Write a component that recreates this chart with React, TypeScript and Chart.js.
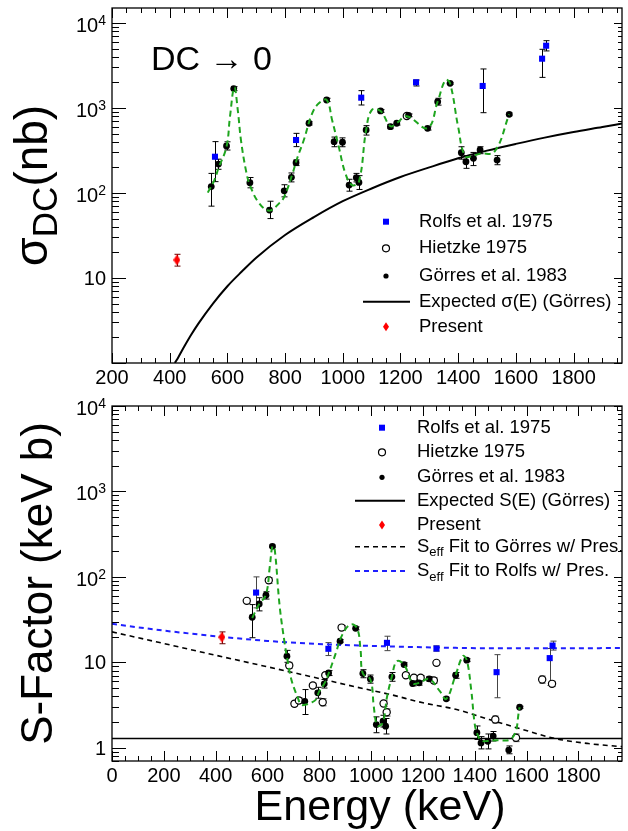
import React, { useEffect, useRef } from 'react';
import { Chart, registerables } from 'chart.js';
Chart.register(...registerables);

const FONT = '"Liberation Sans", Arial, Helvetica, sans-serif';

// ---------------- TOP PANEL (cross section, nb) ----------------
const topRolfsE = [557, 838, 1064, 1254, 1485, 1691, 1705];
const topRolfsY = [267, 420, 1322, 2004, 1815, 3800, 5400];
const topRolfsLo = [136, 351, 1084, 1815, 880, 2290, 4690];
const topRolfsHi = [402, 503, 1600, 2135, 2877, 4900, 6190];

const topHietzkeE = [1222];
const topHietzkeY = [805];

const topGorresE = [544, 569, 597, 622, 678, 746, 797, 822, 838, 883, 944, 970, 999, 1022, 1047, 1056, 1081, 1131, 1165, 1187, 1228, 1294, 1329, 1372, 1411, 1427, 1453, 1476, 1535, 1577];
const topGorresY = [119, 219, 357, 1690, 132, 63, 106, 153, 227, 661, 1242, 401, 395, 124, 151, 133, 551, 922, 603, 661, 820, 577, 1187, 1950, 298, 233, 256, 321, 244, 842];
const topGorresLo = [70, 190, 320, 1600, 115, 50, 90, 135, 210, 630, 1190, 350, 350, 105, 135, 110, 480, 890, 570, 630, 790, 550, 1080, 1900, 250, 195, 210, 290, 215, 810];
const topGorresHi = [170, 250, 400, 1780, 152, 80, 125, 172, 245, 690, 1300, 455, 445, 145, 170, 160, 620, 955, 640, 690, 850, 600, 1300, 2000, 350, 275, 300, 350, 275, 875];

const topPresentE = [425];
const topPresentY = [16.3];
const topPresentLo = [13.8];
const topPresentHi = [19.0];

const topCurveE = [532, 555, 569, 597, 609, 624, 636, 647, 664, 678, 710, 746, 780, 797, 826, 842, 865, 894, 917, 944, 963, 986, 1009, 1032, 1056, 1081, 1101, 1131, 1165, 1187, 1222, 1294, 1329, 1356, 1372, 1400, 1424, 1453, 1476, 1526, 1577];
const topCurveY = [101, 142, 195, 351, 790, 1750, 946, 420, 187, 124, 76, 62, 76, 90, 170, 256, 420, 866, 1135, 1242, 722, 351, 170, 124, 136, 550, 950, 920, 610, 665, 800, 580, 1190, 2130, 1950, 600, 270, 275, 290, 306, 842];

const topExpectedE = [418, 430, 450, 475, 500, 550, 600, 650, 700, 800, 900, 1000, 1100, 1200, 1300, 1400, 1500, 1600, 1700, 1800, 1900, 1968];
const topExpectedY = [1, 1.17, 1.55, 2.16, 2.92, 5.0, 8.0, 11.9, 17.3, 32, 52, 80, 113, 154, 200, 256, 315, 378, 448, 521, 596, 655];

const topXTicks = [200, 400, 600, 800, 1000, 1200, 1400, 1600, 1800];

// ---------------- BOTTOM PANEL (S-factor, keV b) ----------------
const botRolfsE = [556, 835, 1061, 1252, 1484, 1689, 1700];
const botRolfsY = [65.5, 14.4, 16.9, 14.5, 7.67, 11.2, 15.7];
const botRolfsLo = [43.4, 12.0, 13.7, 13.5, 3.85, 5.35, 13.9];
const botRolfsHi = [100, 17.0, 20.2, 15.6, 12.3, 14.5, 17.7];

const botHietzkeE = [520, 605, 684, 704, 721, 775, 813, 823, 886, 1048, 1060, 1134, 1165, 1191, 1242, 1252, 1479, 1559, 1660, 1698];
const botHietzkeY = [52.4, 91.2, 9.2, 3.27, 3.57, 5.35, 3.41, 7.06, 25.5, 3.3, 2.6, 7.06, 6.59, 6.6, 6.12, 9.86, 2.14, 1.31, 6.3, 5.6];
const botHietzkeLo = [49, 84, 8.5, 3.05, 3.3, 5.0, 3.1, 6.6, 24, 3.05, 2.35, 6.6, 6.2, 6.2, 5.7, 9.3, 1.95, 1.18, 5.7, 5.2];
const botHietzkeHi = [56, 98, 10, 3.5, 3.85, 5.7, 3.75, 7.5, 27, 3.55, 2.85, 7.5, 7.0, 7.0, 6.6, 10.4, 2.35, 1.45, 6.9, 6.0];

const botGorresE = [541, 568, 594, 619, 675, 744, 794, 819, 836, 880, 940, 968, 997, 1020, 1046, 1056, 1080, 1127, 1160, 1185, 1224, 1290, 1326, 1369, 1408, 1424, 1450, 1471, 1531, 1573];
const botGorresY = [33.7, 48.3, 61, 228, 11.8, 3.5, 4.4, 5.6, 7.5, 17.7, 25, 7.4, 6.4, 1.87, 2.05, 1.79, 6.77, 9.42, 5.65, 5.75, 6.41, 3.74, 7.06, 10.6, 1.5, 1.14, 1.19, 1.37, 0.94, 2.98];
const botGorresLo = [19.4, 40, 55, 220, 10, 2.45, 3.8, 5.0, 7.0, 17, 24, 6.6, 5.7, 1.5, 1.75, 1.45, 6.0, 9.0, 5.3, 5.4, 6.0, 3.6, 6.5, 10.2, 1.25, 0.97, 0.97, 1.2, 0.85, 2.9];
const botGorresHi = [47.4, 57, 67, 236, 13.8, 4.8, 5.1, 6.3, 8.0, 18.5, 26, 8.2, 7.1, 2.3, 2.4, 2.2, 7.6, 9.9, 6.0, 6.1, 6.8, 3.9, 7.6, 11.0, 1.8, 1.35, 1.45, 1.55, 1.05, 3.06];

const botPresentE = [424];
const botPresentY = [19.7];
const botPresentLo = [16.5];
const botPresentHi = [22.7];

const botCurveE = [541, 568, 594, 609, 619, 627, 647, 666, 675, 692, 717, 730, 749, 768, 787, 800, 819, 836, 864, 889, 921, 946, 959, 968, 997, 1010, 1020, 1029, 1046, 1061, 1080, 1099, 1127, 1160, 1185, 1224, 1265, 1290, 1326, 1354, 1369, 1386, 1399, 1408, 1424, 1450, 1471, 1545, 1573];
const botCurveY = [33, 48, 62, 133, 228, 221, 45.3, 16.9, 11.6, 6.3, 3.85, 3.2, 3.2, 3.36, 3.67, 4.6, 5.6, 7.4, 12.9, 21.1, 27.7, 25, 14.1, 7.4, 6.3, 3.07, 1.9, 1.79, 2.0, 3.9, 6.8, 10.3, 9.4, 5.7, 5.75, 6.4, 4.6, 3.74, 7.1, 11.8, 10.6, 4.8, 1.96, 1.5, 1.22, 1.2, 1.22, 1.31, 2.98];

const botFitGorresE = [0, 200, 400, 600, 800, 946, 1074, 1200, 1330, 1456, 1584, 1711, 1838, 1968];
const botFitGorresY = [22.7, 16.6, 12.1, 8.86, 6.46, 5.11, 4.2, 3.36, 2.8, 2.14, 1.64, 1.28, 1.12, 1.03];

const botFitRolfsE = [0, 200, 424, 600, 835, 1061, 1252, 1484, 1700, 1968];
const botFitRolfsY = [28.2, 23.5, 19.9, 17.8, 16.2, 15.4, 14.9, 14.6, 14.6, 14.7];

const botExpectedE = [0, 1968];
const botExpectedY = [1.28, 1.28];

const botXTicks = [0, 200, 400, 600, 800, 1000, 1200, 1400, 1600, 1800];

// ---------------- helpers ----------------
const pts = (xs: number[], ys: number[]) => xs.map((x, i) => ({ x, y: ys[i] }));

function diamondCanvas(): HTMLCanvasElement {
  const c = document.createElement('canvas');
  c.width = 7;
  c.height = 11;
  const g = c.getContext('2d')!;
  g.fillStyle = '#ff0000';
  g.beginPath();
  g.moveTo(3.5, 0);
  g.lineTo(7, 5.5);
  g.lineTo(3.5, 11);
  g.lineTo(0, 5.5);
  g.closePath();
  g.fill();
  return c;
}

function drawLegendMarker(ctx: CanvasRenderingContext2D, kind: string, mx: number, l0: number, l1: number, y: number) {
  ctx.save();
  if (kind === 'square') {
    ctx.fillStyle = '#0000ff';
    ctx.fillRect(mx - 3, y - 3, 6, 6);
  } else if (kind === 'open') {
    ctx.fillStyle = '#fff';
    ctx.strokeStyle = '#000';
    ctx.lineWidth = 1.2;
    ctx.beginPath();
    ctx.arc(mx, y, 3.5, 0, Math.PI * 2);
    ctx.fill();
    ctx.stroke();
  } else if (kind === 'dot') {
    ctx.fillStyle = '#000';
    ctx.beginPath();
    ctx.arc(mx, y, 2.6, 0, Math.PI * 2);
    ctx.fill();
  } else if (kind === 'diamond') {
    ctx.fillStyle = '#ff0000';
    ctx.beginPath();
    ctx.moveTo(mx, y - 4.5);
    ctx.lineTo(mx + 3, y);
    ctx.lineTo(mx, y + 4.5);
    ctx.lineTo(mx - 3, y);
    ctx.closePath();
    ctx.fill();
  } else {
    ctx.beginPath();
    if (kind === 'line') {
      ctx.strokeStyle = '#000';
      ctx.lineWidth = 2;
    } else if (kind === 'dashK') {
      ctx.strokeStyle = '#000';
      ctx.lineWidth = 1.6;
      ctx.setLineDash([5, 4]);
    } else {
      ctx.strokeStyle = '#1f1fff';
      ctx.lineWidth = 2;
      ctx.setLineDash([5, 4]);
    }
    ctx.moveTo(l0, y);
    ctx.lineTo(l1, y);
    ctx.stroke();
  }
  ctx.restore();
}

type Piece = { t: string; size: number; dy: number };

function drawPieces(ctx: CanvasRenderingContext2D, pieces: Piece[], x: number, y: number, align: 'left' | 'center') {
  let total = 0;
  for (const p of pieces) {
    ctx.font = `${p.size}px ${FONT}`;
    total += ctx.measureText(p.t).width;
  }
  let cx = align === 'center' ? x - total / 2 : x;
  for (const p of pieces) {
    ctx.font = `${p.size}px ${FONT}`;
    ctx.fillText(p.t, cx, y + p.dy);
    cx += ctx.measureText(p.t).width;
  }
}

const decoPlugin = {
  id: 'deco',
  beforeDatasetsDraw(chart: any) {
    const { ctx, chartArea: a } = chart;
    const xs = chart.scales.x;
    const ys = chart.scales.y;
    ctx.save();
    ctx.beginPath();
    ctx.rect(a.left, a.top, a.right - a.left, a.bottom - a.top);
    ctx.clip();
    chart.data.datasets.forEach((ds: any) => {
      if (!ds.errLo) return;
      ctx.strokeStyle = ds.errColor || '#000';
      ctx.lineWidth = 1;
      ds.data.forEach((p: any, i: number) => {
        const px = Math.round(xs.getPixelForValue(p.x)) + 0.5;
        const y1 = ys.getPixelForValue(ds.errLo[i]);
        const y2 = ys.getPixelForValue(ds.errHi[i]);
        ctx.beginPath();
        ctx.moveTo(px, y1);
        ctx.lineTo(px, y2);
        ctx.moveTo(px - 3, y1);
        ctx.lineTo(px + 3, y1);
        ctx.moveTo(px - 3, y2);
        ctx.lineTo(px + 3, y2);
        ctx.stroke();
      });
    });
    ctx.restore();
  },
  afterDraw(chart: any) {
    const cfg = chart.options.plugins.deco;
    const { ctx, chartArea: a } = chart;
    const xs = chart.scales.x;
    const ys = chart.scales.y;
    ctx.save();
    // ticks
    ctx.strokeStyle = '#000';
    ctx.lineWidth = 1;
    ctx.beginPath();
    for (let v = Math.ceil(xs.min / 50) * 50; v <= xs.max; v += 50) {
      const px = Math.round(xs.getPixelForValue(v)) + 0.5;
      const L = v % 200 === 0 ? 10 : 5;
      ctx.moveTo(px, a.bottom);
      ctx.lineTo(px, a.bottom - L);
      ctx.moveTo(px, a.top);
      ctx.lineTo(px, a.top + L);
    }
    const kMin = Math.floor(Math.log10(ys.min));
    const kMax = Math.ceil(Math.log10(ys.max));
    for (let k = kMin; k <= kMax; k++) {
      for (let m = 1; m <= 9; m++) {
        const v = m * Math.pow(10, k);
        if (v < ys.min * 0.999 || v > ys.max * 1.001) continue;
        const py = Math.round(ys.getPixelForValue(v)) + 0.5;
        const major = m === 1;
        ctx.moveTo(a.left, py);
        ctx.lineTo(a.left + (major ? 14 : 7), py);
        ctx.moveTo(a.right, py);
        ctx.lineTo(a.right - (major ? 8 : 4), py);
      }
    }
    ctx.stroke();
    ctx.lineWidth = 1.3;
    ctx.strokeRect(a.left, a.top, a.right - a.left, a.bottom - a.top);

    // y tick labels
    ctx.fillStyle = '#000';
    ctx.textBaseline = 'alphabetic';
    for (let k = kMin; k <= kMax; k++) {
      const v = Math.pow(10, k);
      if (v < ys.min * 0.999 || v > ys.max * 1.001) continue;
      if (k === 0 && !cfg.showOne) continue;
      const py = ys.getPixelForValue(v);
      const right = 106;
      if (k >= 2) {
        ctx.font = `14px ${FONT}`;
        const ew = ctx.measureText(String(k)).width;
        ctx.textAlign = 'right';
        ctx.fillText(String(k), right, py + 2);
        ctx.font = `20px ${FONT}`;
        ctx.fillText('10', right - ew, py + 9);
      } else {
        ctx.font = `20px ${FONT}`;
        ctx.textAlign = 'right';
        ctx.fillText(k === 0 ? '1' : '10', right, py + 7);
      }
    }

    // y title
    ctx.save();
    ctx.translate(cfg.titleX, cfg.titleY);
    ctx.rotate(-Math.PI / 2);
    ctx.textAlign = 'left';
    drawPieces(ctx, cfg.title, 0, 0, 'center');
    ctx.restore();

    // extra texts
    (cfg.texts || []).forEach((t: any) => {
      ctx.font = `${t.size}px ${FONT}`;
      ctx.textAlign = t.align || 'left';
      ctx.textBaseline = 'alphabetic';
      ctx.fillText(t.t, t.x, t.y);
    });

    // legend
    const lg = cfg.legend;
    lg.rows.forEach((r: any, i: number) => {
      const y = lg.ys[i];
      drawLegendMarker(ctx, r.kind, lg.mx, lg.l0, lg.l1, y);
      ctx.fillStyle = '#000';
      ctx.textAlign = 'left';
      ctx.textBaseline = 'middle';
      drawPieces(ctx, r.pieces, lg.tx, y, 'left');
    });
    ctx.restore();
  },
};

function Panel(props: { config: any; top: number; height: number }) {
  const ref = useRef<HTMLCanvasElement>(null);
  useEffect(() => {
    const chart = new Chart(ref.current!, props.config);
    return () => chart.destroy();
  }, []);
  return (
    <canvas
      ref={ref}
      width={628}
      height={props.height}
      style={{ position: 'absolute', left: 0, top: props.top, width: 628, height: props.height, display: 'block' }}
    />
  );
}

function baseScales(xMin: number, xMax: number, yMin: number, yMax: number, xH: number, ticks: number[]) {
  return {
    x: {
      type: 'linear',
      min: xMin,
      max: xMax,
      grid: { display: false, drawTicks: false },
      border: { display: false },
      afterBuildTicks: (s: any) => {
        s.ticks = ticks.map((v) => ({ value: v }));
      },
      afterFit: (s: any) => {
        s.height = xH;
      },
      ticks: {
        autoSkip: false,
        maxRotation: 0,
        padding: 3,
        color: '#000',
        font: { family: FONT, size: 20 },
        callback: (v: any) => String(v),
      },
    },
    y: {
      type: 'logarithmic',
      min: yMin,
      max: yMax,
      grid: { display: false, drawTicks: false },
      border: { display: false },
      ticks: { display: false },
      afterFit: (s: any) => {
        s.width = 112;
      },
    },
  };
}

const lineDs = (data: any, color: string, width: number, dash: number[], order: number, tension: number, mono = false) => ({
  data,
  showLine: true,
  borderColor: color,
  borderWidth: width,
  borderDash: dash,
  pointRadius: 0,
  fill: false,
  tension,
  cubicInterpolationMode: mono ? 'monotone' : 'default',
  order,
});

export default function App() {
  const diamond = diamondCanvas();

  const topConfig = {
    type: 'scatter',
    data: {
      datasets: [
        lineDs(pts(topCurveE, topCurveY), '#1ea51e', 2, [6, 4], 0, 0.4),
        { data: pts(topPresentE, topPresentY), pointStyle: diamond, pointRadius: 5, errLo: topPresentLo, errHi: topPresentHi, errColor: '#600', order: 1 },
        { data: pts(topRolfsE, topRolfsY), pointStyle: 'rect', pointRadius: 4.3, backgroundColor: '#0000ff', borderColor: '#0000ff', borderWidth: 0, errLo: topRolfsLo, errHi: topRolfsHi, order: 2 },
        { data: pts(topGorresE, topGorresY), pointStyle: 'circle', pointRadius: 3.4, backgroundColor: '#000', borderColor: '#000', borderWidth: 0, errLo: topGorresLo, errHi: topGorresHi, order: 3 },
        { data: pts(topHietzkeE, topHietzkeY), pointStyle: 'circle', pointRadius: 3.6, backgroundColor: '#fff', borderColor: '#000', borderWidth: 1.2, order: 4 },
        lineDs(pts(topExpectedE, topExpectedY), '#000', 2, [], 5, 0.4, true),
      ],
    },
    options: {
      responsive: false,
      animation: false,
      events: [],
      devicePixelRatio: 1,
      layout: { padding: { top: 8, right: 1, left: 0, bottom: 0 } },
      scales: baseScales(200, 1968, 1, 15000, 27, topXTicks),
      plugins: {
        legend: { display: false },
        tooltip: { enabled: false },
        deco: {
          showOne: false,
          titleX: 47,
          titleY: 185.5,
          title: [
            { t: 'σ', size: 47, dy: 0 },
            { t: 'DC', size: 35, dy: 10 },
            { t: '(nb)', size: 46, dy: 0 },
          ],
          texts: [{ t: 'DC → 0', size: 34, x: 151, y: 70 }],
          legend: {
            mx: 386,
            l0: 363,
            l1: 410,
            tx: 419,
            ys: [221.7, 248.3, 276, 301.7, 326.7],
            rows: [
              { kind: 'square', pieces: [{ t: 'Rolfs et al. 1975', size: 18.5, dy: 0 }] },
              { kind: 'open', pieces: [{ t: 'Hietzke 1975', size: 18.5, dy: 0 }] },
              { kind: 'dot', pieces: [{ t: 'Görres et al. 1983', size: 18.5, dy: 0 }] },
              { kind: 'line', pieces: [{ t: 'Expected σ(E) (Görres)', size: 18.5, dy: 0 }] },
              { kind: 'diamond', pieces: [{ t: 'Present', size: 18.5, dy: 0 }] },
            ],
          },
        },
      },
    },
    plugins: [decoPlugin],
  };

  const botConfig = {
    type: 'scatter',
    data: {
      datasets: [
        lineDs(pts(botCurveE, botCurveY), '#1ea51e', 2, [6, 4], 0, 0.4),
        { data: pts(botPresentE, botPresentY), pointStyle: diamond, pointRadius: 5, errLo: botPresentLo, errHi: botPresentHi, errColor: '#600', order: 1 },
        { data: pts(botRolfsE, botRolfsY), pointStyle: 'rect', pointRadius: 4.3, backgroundColor: '#0000ff', borderColor: '#0000ff', borderWidth: 0, errLo: botRolfsLo, errHi: botRolfsHi, errColor: '#444', order: 2 },
        { data: pts(botGorresE, botGorresY), pointStyle: 'circle', pointRadius: 3.4, backgroundColor: '#000', borderColor: '#000', borderWidth: 0, errLo: botGorresLo, errHi: botGorresHi, order: 3 },
        { data: pts(botHietzkeE, botHietzkeY), pointStyle: 'circle', pointRadius: 3.6, backgroundColor: '#fff', borderColor: '#000', borderWidth: 1.2, errLo: botHietzkeLo, errHi: botHietzkeHi, errColor: '#444', order: 4 },
        lineDs(pts(botFitRolfsE, botFitRolfsY), '#1f1fff', 2, [5, 4], 5, 0.4, true),
        lineDs(pts(botFitGorresE, botFitGorresY), '#000', 1.6, [5, 4], 6, 0.4, true),
        lineDs(pts(botExpectedE, botExpectedY), '#000', 1.5, [], 7, 0),
      ],
    },
    options: {
      responsive: false,
      animation: false,
      events: [],
      devicePixelRatio: 1,
      layout: { padding: { top: 16, right: 1, left: 0, bottom: 0 } },
      scales: baseScales(0, 1968, 0.716, 10000, 70, botXTicks),
      plugins: {
        legend: { display: false },
        tooltip: { enabled: false },
        deco: {
          showOne: true,
          titleX: 52,
          titleY: 193.5,
          title: [{ t: 'S-Factor (keV b)', size: 44, dy: 0 }],
          texts: [{ t: 'Energy (keV)', size: 43, x: 380, y: 430, align: 'center' }],
          legend: {
            mx: 382,
            l0: 355,
            l1: 405,
            tx: 417,
            ys: [37.7, 62.3, 87.3, 110.7, 135, 156.7, 181],
            rows: [
              { kind: 'square', pieces: [{ t: 'Rolfs et al. 1975', size: 18.5, dy: 0 }] },
              { kind: 'open', pieces: [{ t: 'Hietzke 1975', size: 18.5, dy: 0 }] },
              { kind: 'dot', pieces: [{ t: 'Görres et al. 1983', size: 18.5, dy: 0 }] },
              { kind: 'line', pieces: [{ t: 'Expected S(E) (Görres)', size: 18.5, dy: 0 }] },
              { kind: 'diamond', pieces: [{ t: 'Present', size: 18.5, dy: 0 }] },
              {
                kind: 'dashK',
                pieces: [
                  { t: 'S', size: 18.5, dy: 0 },
                  { t: 'eff', size: 13, dy: 6 },
                  { t: ' Fit to Görres w/ Pres.', size: 18.5, dy: 0 },
                ],
              },
              {
                kind: 'dashB',
                pieces: [
                  { t: 'S', size: 18.5, dy: 0 },
                  { t: 'eff', size: 13, dy: 6 },
                  { t: ' Fit to Rolfs w/ Pres.', size: 18.5, dy: 0 },
                ],
              },
            ],
          },
        },
      },
    },
    plugins: [decoPlugin],
  };

  return (
    <div style={{ position: 'absolute', left: 0, top: 0, width: 628, height: 831, background: '#fff' }}>
      <Panel config={topConfig} top={0} height={390} />
      <Panel config={botConfig} top={390} height={441} />
    </div>
  );
}
